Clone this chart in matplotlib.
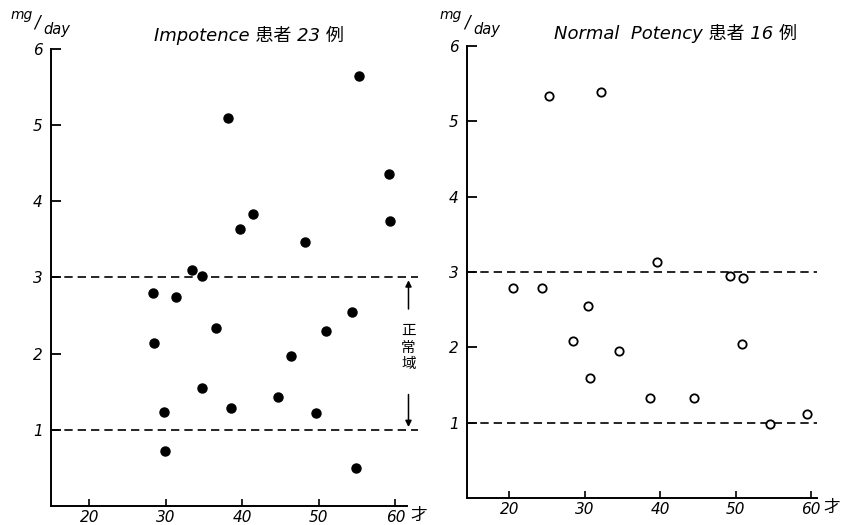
import matplotlib
matplotlib.use('Agg')
import matplotlib.pyplot as plt

plt.rcParams['font.family'] = ['DejaVu Sans', 'Noto Sans CJK JP']

# Impotence group (23 cases): age vs excretion (mg/day)
imp_age = [28.3, 28.5, 29.8, 29.9, 31.3, 33.4, 34.7, 34.7, 36.6, 38.1, 38.5, 39.7,
           41.4, 44.7, 46.4, 48.2, 49.6, 50.9, 54.3, 54.9, 55.3, 59.1, 59.3]
imp_val = [2.80, 2.14, 1.23, 0.72, 2.74, 3.10, 3.02, 1.55, 2.34, 5.10, 1.29, 3.64,
           3.83, 1.43, 1.97, 3.46, 1.22, 2.30, 2.55, 0.50, 5.64, 4.36, 3.74]

# Normal potency group (16 cases)
nor_age = [20.5, 24.4, 25.3, 28.5, 30.5, 30.7, 32.2, 34.6, 38.7, 39.6, 44.5,
           49.3, 51.0, 50.9, 54.6, 59.5]
nor_val = [2.79, 2.79, 5.33, 2.08, 2.55, 1.59, 5.39, 1.95, 1.33, 3.13, 1.33,
           2.95, 2.92, 2.05, 0.98, 1.12]

normal_low, normal_high = 1, 3
xticks = [20, 30, 40, 50, 60]
yticks = [1, 2, 3, 4, 5, 6]

fig = plt.figure(figsize=(8.41, 5.25), dpi=100)
ax1 = fig.add_axes([0.0606, 0.0362, 0.4233, 0.8705])
ax2 = fig.add_axes([0.5553, 0.0514, 0.4162, 0.861])


def style_axis(ax, xlim):
    ax.set_xlim(*xlim)
    ax.set_ylim(0, 6)
    for s in ['top', 'right']:
        ax.spines[s].set_visible(False)
    for s in ['left', 'bottom']:
        ax.spines[s].set_linewidth(1.4)
    ax.set_xticks(xticks)
    ax.set_yticks(yticks)
    ax.tick_params(axis='y', direction='in', length=7, width=1.3, pad=6, labelsize=11)
    ax.tick_params(axis='x', direction='in', length=5, width=1.2, pad=3, labelsize=11)
    for lab in ax.get_xticklabels() + ax.get_yticklabels():
        lab.set_fontstyle('italic')


dash = (0, (5, 3))
arrow = dict(arrowstyle='-|>', color='black', lw=1.1, mutation_scale=9)

# left panel
style_axis(ax1, (15, 61.5))
for v in (normal_low, normal_high):
    ax1.plot([15, 63], [v, v], color='black', lw=1.2, linestyle=dash, clip_on=False)
ax1.plot(imp_age, imp_val, 'o', color='black', markersize=6.5, clip_on=False)
ax1.annotate('', xy=(61.7, normal_high), xytext=(61.7, 2.55),
             arrowprops=arrow, annotation_clip=False)
ax1.annotate('', xy=(61.7, normal_low), xytext=(61.7, 1.5),
             arrowprops=arrow, annotation_clip=False)
ax1.text(61.7, 2.08, '正\n常\n域', ha='center', va='center', fontsize=10.5,
         linespacing=1.2, family=['Noto Sans CJK JP'], clip_on=False)
ax1.text(62.0, -0.12, '才', ha='left', va='center', fontsize=12,
         family=['Noto Sans CJK JP'], clip_on=False)

# right panel
style_axis(ax2, (14.4, 60.8))
for v in (normal_low, normal_high):
    ax2.axhline(v, color='black', lw=1.2, linestyle=dash)
ax2.plot(nor_age, nor_val, 'o', markerfacecolor='white', markeredgecolor='black',
         markeredgewidth=1.3, markersize=6, clip_on=False)
ax2.text(61.6, -0.13, '才', ha='left', va='center', fontsize=12,
         family=['Noto Sans CJK JP'], clip_on=False)

# titles
fig.text(0.296, 0.933, 'Impotence 患者 23 例', ha='center', va='center',
         fontsize=13, style='italic')
fig.text(0.803, 0.937, 'Normal  Potency 患者 16 例', ha='center', va='center',
         fontsize=13, style='italic')

# unit labels
for x0 in (0.012, 0.523):
    fig.text(x0, 0.972, 'mg', fontsize=10, style='italic', va='center')
    fig.text(x0 + 0.029, 0.957, '/', fontsize=12, style='italic', va='center')
    fig.text(x0 + 0.040, 0.944, 'day', fontsize=10.5, style='italic', va='center')

plt.savefig('out.png', dpi=100)
plt.close()
